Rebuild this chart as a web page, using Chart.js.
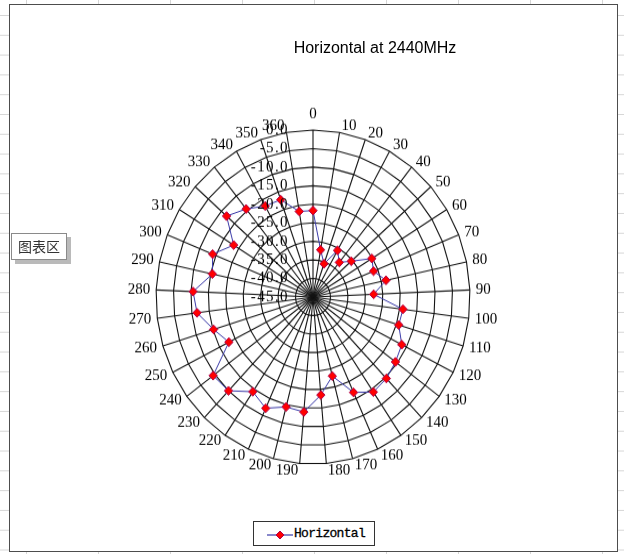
<!DOCTYPE html>
<html>
<head>
<meta charset="utf-8">
<script src="https://cdn.jsdelivr.net/npm/chart.js@4.4.1/dist/chart.umd.min.js"></script>
<style>
    body {
        margin: 0; width: 624px; height: 554px; overflow: hidden; position: relative;
        background-color: #fff;
        background-image: linear-gradient(#d6d6d6 1px, transparent 1px), linear-gradient(90deg, #d6d6d6 1px, transparent 1px);
        background-size: 72px 19.8px;
        background-position: 26px 15px;
    }
    #frame { position: absolute; left: 9px; top: 4px; width: 607px; height: 546px; border: 1px solid #4d4d4d; background: #fff; }
    #wrap { position: absolute; left: 0; top: 0; width: 624px; height: 554px; transform-origin: 313px 297px; transform: scaleY(1.0637); }
    #title { position: absolute; left: 375px; top: 39px; transform: translateX(-50%); white-space: nowrap;
        font: 16px "Liberation Sans", Arial, sans-serif; line-height: 18px; color: #000; }
    #legend { position: absolute; left: 253px; top: 521px; width: 120px; height: 23px; border: 1px solid #333; background: #fff; }
    #legend span { position: absolute; left: 40px; top: 3px; font: 13px "Liberation Mono", monospace; letter-spacing: -0.7px; line-height: 17px; color: #000; -webkit-text-stroke: 0.3px #000; }
    #tip { position: absolute; left: 11px; top: 233px; width: 54px; height: 25px; border: 1px solid #8a8a8a; background: #fff;
        box-shadow: 4px 4px 0 rgba(130,130,130,0.55); font: 14px "Noto Sans CJK SC", sans-serif; line-height: 25px; text-align: center; color: #333; }
</style>
</head>
<body>
<div id="frame"></div>
<div id="wrap"><canvas id="radarChart"></canvas></div>
<div id="title">Horizontal at 2440MHz</div>
<div id="legend">
    <svg width="26" height="10" style="position:absolute;left:13px;top:8px">
        <line x1="0" y1="5" x2="26" y2="5" stroke="#3a3aa8" stroke-width="1.2"/>
        <polygon points="13,1 17,5 13,9 9,5" fill="#ff0000" stroke="#b0004a" stroke-width="1"/>
    </svg>
    <span>Horizontal</span>
</div>
<div id="tip">图表区</div>

<script>
// ========== DATA ==========
const angles = [0, 10, 20, 30, 40, 50, 60, 70, 80, 90, 100, 110, 120, 130, 140, 150, 160, 170, 180,
    190, 200, 210, 220, 230, 240, 250, 260, 270, 280, 290, 300, 310, 320, 330, 340, 350, 360];
const horizontal = [-21.7, -32.1, -35.5, -30.6, -33.0, -30.4, -25.2, -26.3, -23.6, -27.6, -19.0, -19.3, -16.5,
    -15.6, -14.6, -14.1, -16.8, -23.0, -18.5, -13.9, -14.4, -12.1, -14.2, -10.0, -9.4, -18.0, -15.2,
    -11.5, -10.6, -15.5, -14.0, -18.3, -12.0, -14.5, -16.9, -17.2, -21.6];
const radialTicks = [-45, -40, -35, -30, -25, -20, -15, -10, -5, 0];

// ========== EXCEL STYLE LABELS ==========
// category labels hug the outer ring, value labels sit left of the 0 spoke
const excelLabels = {
    id: 'excelLabels',
    afterDraw(chart) {
        const s = chart.scales.r;
        const ctx = chart.ctx;
        ctx.save();
        ctx.font = '15px "Liberation Serif", serif';
        ctx.fillStyle = '#000';
        ctx.textBaseline = 'middle';

        chart.data.labels.forEach((lbl, i) => {
            const p = s.getPointPosition(i, s.drawingArea);
            const a = s.getIndexAngle(i);
            const sn = Math.sin(a), cs = Math.cos(a);
            let x = p.x, y = p.y - 6.5 * cs;
            if (sn > 0.05) { ctx.textAlign = 'left'; x += 1 + 5 * sn; }
            else if (sn < -0.05) { ctx.textAlign = 'right'; x -= 1 - 5 * sn; }
            else { ctx.textAlign = 'center'; y = p.y - 15 * cs; }
            ctx.fillText(String(lbl), x, y);
        });

        ctx.textAlign = 'right';
        ctx.letterSpacing = '1.4px';
        radialTicks.forEach(v => {
            const d = s.getDistanceFromCenterForValue(v);
            ctx.fillText(v.toFixed(1), s.xCenter - 24, s.yCenter - d);
        });
        ctx.restore();
    }
};

// ========== CHART ==========
const ctx = document.getElementById('radarChart').getContext('2d');
new Chart(ctx, {
    type: 'radar',
    data: {
        labels: angles,
        datasets: [{
            label: 'Horizontal',
            data: horizontal,
            borderColor: '#3a3aa8',
            borderWidth: 1,
            backgroundColor: 'rgba(0,0,0,0)',
            fill: false,
            tension: 0,
            pointStyle: 'rectRot',
            pointRadius: 4.2,
            pointBackgroundColor: '#ff0000',
            pointBorderColor: '#b0004a',
            pointBorderWidth: 1
        }]
    },
    options: {
        responsive: true,
        maintainAspectRatio: false,
        animation: false,
        layout: { padding: { left: 156, top: 140, right: 154, bottom: 100 } },
        plugins: {
            legend: { display: false },
            title: { display: false },
            tooltip: { enabled: false }
        },
        scales: {
            r: {
                min: radialTicks[0],
                max: radialTicks[radialTicks.length - 1],
                startAngle: 0,
                ticks: { display: false, stepSize: 5 },
                grid: { circular: false, color: '#141414', lineWidth: 1.1 },
                angleLines: { display: true, color: '#141414', lineWidth: 1.1 },
                pointLabels: { display: false }
            }
        }
    },
    plugins: [excelLabels]
});
</script>
</body>
</html>
